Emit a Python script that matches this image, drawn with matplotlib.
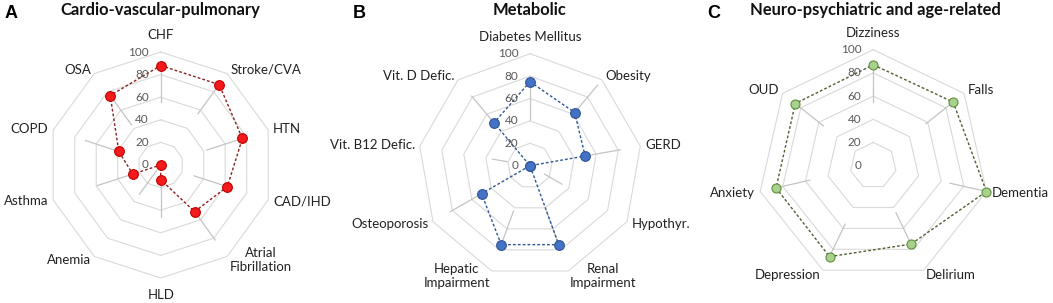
import numpy as np
import matplotlib
matplotlib.use('Agg')
import matplotlib.pyplot as plt

plt.rcParams['font.family'] = ['Lato', 'DejaVu Sans']

# A: cardio-vascular-pulmonary
cvp_labels = ['CHF', 'Stroke/CVA', 'HTN', 'CAD/IHD', 'Atrial\nFibrillation', 'HLD',
              'Anemia', 'Asthma', 'COPD', 'OSA']
cvp_values = [88, 88, 76, 62, 51, 13, 0, 26, 39, 76]
cvp_spoke_lo = [56, 56, 43, 31, 51, 15, 6, 27, 39, 44]
cvp_spoke_hi = [84, 83, 76, 62, 82, 46, 32, 59, 70, 77]

# B: metabolic
met_labels = ['Diabetes Mellitus', 'Obesity', 'GERD', 'Hypothyr.', 'Renal\nImpairment',
              'Hepatic\nImpairment', 'Osteoporosis', 'Vit. B12 Defic.', 'Vit. D Defic.']
met_values = [75, 62, 50, 0, 75, 75, 50, 0, 50]
met_spoke_lo = [42, 62, 50, 15, 43, 43, 50, 21, 50]
met_spoke_hi = [75, 94, 82, 33, 75, 75, 82, 34, 81]

# C: neuro-psychiatric and age-related
neu_labels = ['Dizziness', 'Falls', 'Dementia', 'Delirium', 'Depression', 'Anxiety', 'OUD']
neu_values = [87, 88, 100, 75, 87, 86, 86]
neu_spoke_lo = [55, 58, 68, 45, 56, 56, 55]
neu_spoke_hi = [87, 87, 100, 75, 87, 86, 86]

ring_levels = [0, 20, 40, 60, 80, 100]

W, H = 1053, 303
fig = plt.figure(figsize=(W / 100, H / 100), dpi=100)


def radar(cx, cy, rad, labels, values, lo, hi, face, edge, line, msize):
    n = len(labels)
    theta = np.arange(n) * 2 * np.pi / n
    ax = fig.add_axes([(cx - rad) / W, (H - cy - rad) / H, 2 * rad / W, 2 * rad / H],
                      projection='polar')
    ax.set_theta_zero_location('N')
    ax.set_theta_direction(-1)
    ax.set_ylim(0, 100)
    ax.set_axis_off()

    th_closed = np.append(theta, theta[0])
    for lv in ring_levels[1:]:
        ax.plot(th_closed, [lv] * (n + 1), color='#d9d9d9', lw=0.8, clip_on=False, zorder=1)
    for t, a, b in zip(theta, lo, hi):
        ax.plot([t, t], [a, b], color='#c4c4c4', lw=0.9, clip_on=False, zorder=2)

    vals = np.append(values, values[0])
    ax.plot(th_closed, vals, color=line, lw=1, ls=(0, (2, 1.5)), clip_on=False, zorder=3)
    ax.plot(theta, values, 'o', ms=msize, mfc=face, mec=edge, mew=0.8, ls='none',
            clip_on=False, zorder=4)

    for lv in ring_levels:
        ax.annotate(str(lv), xy=(0, lv), xytext=(-8.5, 0), textcoords='offset points',
                    ha='right', va='center', color='#595959', fontsize=8.5,
                    annotation_clip=False, zorder=5)

    # category labels: anchored just outside the outer ring, Excel style
    c = ax.transData.transform((0, 0))
    for t, lab in zip(theta, labels):
        ux, uy = np.sin(t), np.cos(t)
        if abs(ux) < 0.05:
            d, ha = rad + 17, 'center'
        else:
            d, ha = rad + 5, ('left' if ux > 0 else 'right')
        fig.text((c[0] + ux * d) / W, (c[1] + uy * d) / H, lab, ha=ha, va='center',
                 fontsize=9.5, multialignment='center', color='#222222')
    return ax


radar(160.7, 165, 113, cvp_labels, cvp_values, cvp_spoke_lo, cvp_spoke_hi,
      '#f21a1a', '#c00000', '#8b2020', 7)
radar(530, 165.7, 112, met_labels, met_values, met_spoke_lo, met_spoke_hi,
      '#4472c4', '#2f5597', '#2f5597', 7)
radar(873.3, 165.7, 116, neu_labels, neu_values, neu_spoke_lo, neu_spoke_hi,
      '#a9d18e', '#5f8f3a', '#4f5f30', 6.5)

titles = ['Cardio-vascular-pulmonary', 'Metabolic', 'Neuro-psychiatric and age-related']
title_x = [160, 530, 875]
letters = ['A', 'B', 'C']
letter_x = [5, 353, 707]
for tt, tx, lt, lx in zip(titles, title_x, letters, letter_x):
    fig.text(tx / W, 1 - 10 / H, tt, ha='center', va='center', fontsize=11.9,
             fontweight='bold', color='#111111')
    fig.text(lx / W, 1 - 13.5 / H, lt, ha='left', va='center', fontsize=13,
             fontweight='bold', family=['Liberation Sans', 'DejaVu Sans'])

fig.savefig('out.png', dpi=100)
